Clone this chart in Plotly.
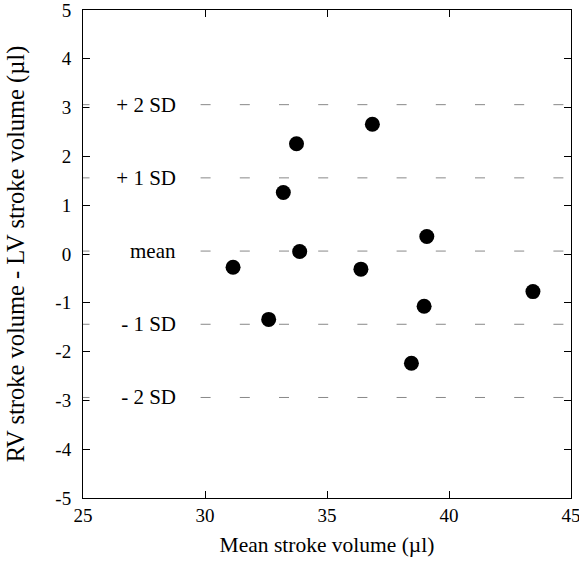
"""Bland-Altman style plot of RV vs LV stroke volume."""

import plotly.graph_objects as go

# Data
mean_sv = [36.86, 33.75, 33.21, 39.09, 33.88, 36.39, 43.44, 38.98, 32.61, 38.46, 31.15]
diff_sv = [2.66, 2.26, 1.26, 0.36, 0.05, -0.31, -0.77, -1.07, -1.34, -2.24, -0.27]

bias = 0.06
sd = 1.5
sd_multipliers = [2, 1, 0, -1, -2]
sd_labels = ["+ 2 SD", "+ 1 SD", "mean", "- 1 SD", "- 2 SD"]

x_ticks = [25, 30, 35, 40, 45]
y_ticks = [5, 4, 3, 2, 1, 0, -1, -2, -3, -4, -5]
y_tick_text = [str(v) for v in y_ticks]

FONT = "Liberation Serif, Times New Roman, serif"

fig = go.Figure()

fig.add_trace(
    go.Scatter(
        x=mean_sv,
        y=diff_sv,
        mode="markers",
        marker=dict(size=15, color="black"),
        showlegend=False,
        hoverinfo="skip",
    )
)

# Mean and SD reference lines with their labels
for k, label in zip(sd_multipliers, sd_labels):
    level = bias + k * sd
    fig.add_shape(
        type="line",
        xref="x",
        yref="y",
        x0=25,
        x1=45,
        y0=level,
        y1=level,
        line=dict(color="#888888", width=1, dash="10px,29.2px"),
        layer="below",
    )
    fig.add_annotation(
        x=28.9,
        y=level,
        xref="x",
        yref="y",
        text=label,
        showarrow=False,
        xanchor="right",
        yanchor="middle",
        align="right",
        width=85,
        bgcolor="white",
        font=dict(family=FONT, size=21, color="black"),
    )

axis_common = dict(
    showline=True,
    linecolor="black",
    linewidth=1,
    mirror="ticks",
    ticks="inside",
    ticklen=7,
    tickcolor="black",
    showgrid=False,
    zeroline=False,
    automargin=False,
    ticklabeloverflow="allow",
    tickfont=dict(family=FONT, size=19, color="black"),
)

fig.update_xaxes(
    range=[25, 45],
    tickvals=x_ticks,
    title=dict(
        text="Mean stroke volume (µl)",
        font=dict(family=FONT, size=21.5, color="black"),
        standoff=12,
    ),
    **axis_common,
)
fig.update_yaxes(
    range=[-5, 5],
    tickvals=y_ticks,
    ticktext=y_tick_text,
    ticklabelstandoff=7,
    title=dict(
        text="RV stroke volume - LV stroke volume (µl)",
        font=dict(family=FONT, size=24.5, color="black"),
        standoff=23,
    ),
    **axis_common,
)

fig.update_layout(
    width=579,
    height=564,
    margin=dict(l=83, r=8, t=10, b=66),
    plot_bgcolor="white",
    paper_bgcolor="white",
)

fig.write_html(
    "out.html",
    config={"displayModeBar": False},
    post_script="document.body.style.margin='0';",
)
